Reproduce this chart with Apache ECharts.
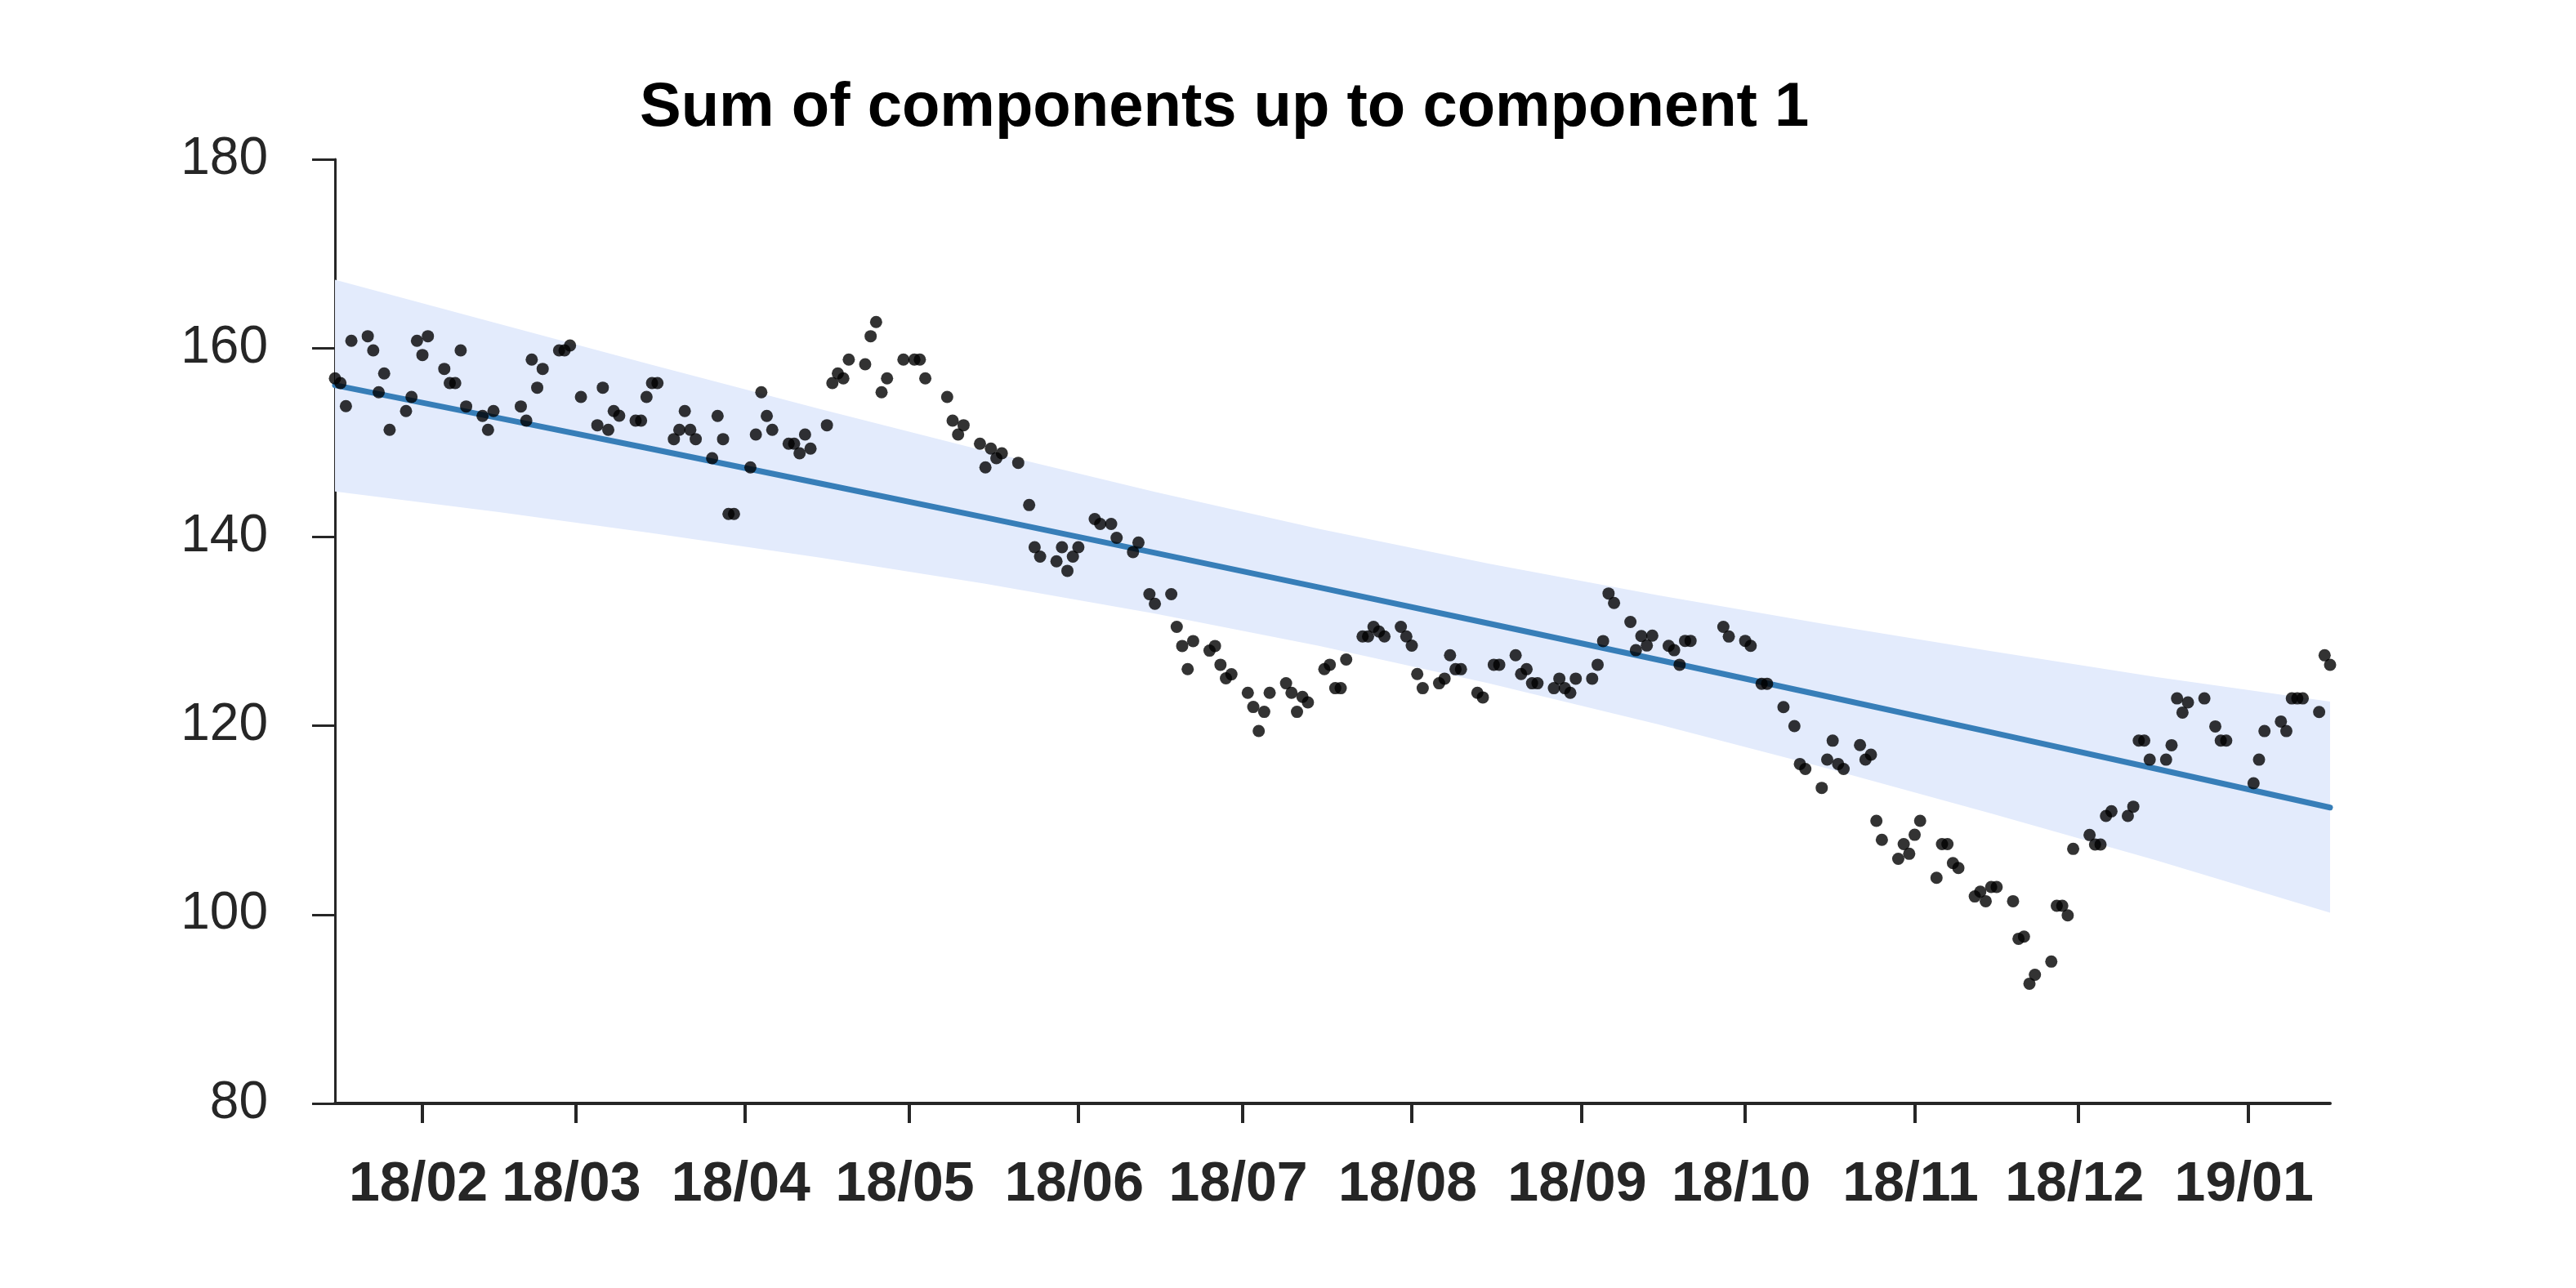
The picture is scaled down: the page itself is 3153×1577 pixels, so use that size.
<!DOCTYPE html>
<html>
<head>
<meta charset="utf-8">
<script src="https://cdn.jsdelivr.net/npm/echarts@6/dist/echarts.min.js"></script>
<style>
html, body { margin: 0; padding: 0; background: #ffffff; }
#chart { width: 3153px; height: 1577px; }
</style>
</head>
<body>
<div id="chart"></div>
<script>
// ---------------- data ----------------
const titleText = 'Sum of components up to component 1';

const firstDay = '2018-01-16';
const lastDay = '2019-01-16';

// days without a trading observation (market closed)
const marketHolidays = [
  '2018-02-15', '2018-02-16', '2018-03-01', '2018-05-01', '2018-05-07',
  '2018-05-22', '2018-06-06', '2018-06-13', '2018-08-15', '2018-09-24',
  '2018-09-25', '2018-09-26', '2018-10-03', '2018-10-09', '2018-12-25',
  '2018-12-31', '2019-01-01'
];

// observed values, one per trading day (in date order)
const observedValues = [
  // 2018-01
  156.79, 156.30, 153.85, 160.77, 161.26, 159.76, 155.32, 157.31, 151.34, 153.33, 154.83, 160.77,
  // 2018-02
  159.27, 161.26, 157.80, 156.30, 156.30, 159.76, 153.82, 152.81, 151.34, 153.33, 153.82, 152.32,
  158.78, 155.81, 157.80, 159.76, 159.76, 160.28,
  // 2018-03
  154.83, 151.83, 155.81, 151.34, 153.33, 152.84, 152.32, 152.32, 154.83, 156.30, 156.30, 150.36,
  151.34, 153.33, 151.34, 150.36, 148.34, 152.81, 150.36, 142.43, 142.43,
  // 2018-04
  147.36, 150.85, 155.32, 152.81, 151.34, 149.87, 149.87, 148.86, 150.85, 149.35, 151.83, 156.30,
  157.31, 156.79, 158.78, 158.29, 161.26, 162.76, 155.32, 156.79, 158.78,
  // 2018-05
  158.78, 158.78, 156.79, 154.83, 152.32, 150.85, 151.83, 149.87, 147.36, 149.35, 148.34, 148.86,
  147.85, 143.38, 138.91, 137.91, 137.42, 138.91, 136.41, 137.91,
  // 2018-06
  138.91, 141.90, 141.37, 141.37, 139.90, 138.40, 139.40, 133.93, 132.92, 133.93, 130.47, 128.45,
  126.00, 128.97, 127.96, 128.45, 126.46, 125.02, 125.45,
  // 2018-07
  123.49, 121.99, 119.45, 121.47, 123.49, 124.50, 123.49, 121.47, 123.06, 122.48, 126.00, 126.46,
  123.98, 123.98, 127.01, 129.46, 129.46, 130.47, 129.98, 129.46, 130.47, 129.46,
  // 2018-08
  128.48, 125.48, 123.98, 124.50, 124.99, 127.47, 125.99, 125.99, 123.49, 123.00, 126.46, 126.46,
  127.47, 125.48, 125.99, 124.50, 124.50, 123.98, 124.99, 123.98, 123.49, 124.99,
  // 2018-09
  124.99, 126.46, 128.97, 134.01, 133.00, 130.99, 128.00, 129.50, 128.50, 129.54, 128.46, 128.00,
  126.46, 128.99, 128.99, 130.47, 129.45,
  // 2018-10
  128.99, 128.46, 124.45, 124.45, 121.98, 119.97, 115.95, 115.43, 113.42, 116.42, 118.42, 115.95,
  115.43, 117.96, 116.42, 116.94, 109.93, 107.92, 105.91, 107.46, 106.44,
  // 2018-11
  108.45, 109.93, 103.90, 107.46, 107.46, 105.45, 104.93, 101.92, 102.43, 101.42, 102.92, 102.92,
  101.42, 97.44, 97.67, 92.68, 93.63, 95.02, 100.93, 100.93, 99.92, 106.96,
  // 2018-12
  108.43, 107.42, 107.42, 110.45, 110.94, 110.45, 111.43, 118.43, 118.43, 116.41, 116.41, 117.94,
  122.90, 121.40, 122.47, 122.90, 119.93, 118.43, 118.43,
  // 2019-01
  113.91, 116.41, 119.44, 120.45, 119.44, 122.90, 122.90, 122.90, 121.46, 127.46, 126.45
];

// fitted trend and its uncertainty band, read at these dates
const trendDates = ['2018-01-16', '2018-02-15', '2018-03-15', '2018-04-15', '2018-05-15',
                    '2018-06-15', '2018-07-15', '2018-08-15', '2018-09-15', '2018-10-15',
                    '2018-11-15', '2018-12-15', '2019-01-16'];
const trendValues = [156.07, 152.59, 149.31, 145.64, 142.06, 138.32, 134.66,
                     130.84, 126.99, 123.23, 119.31, 115.47, 111.34];
const bandUpper   = [167.23, 162.56, 158.22, 153.50, 149.09, 144.76, 140.86,
                     137.17, 133.82, 130.82, 127.90, 125.17, 122.55];
const bandLower   = [144.82, 142.62, 140.40, 137.78, 135.03, 131.88, 128.46,
                     124.51, 120.16, 115.64, 110.72, 105.77, 100.20];

// axis ticks
const xTickDates = ['2018-02-01', '2018-03-01', '2018-04-01', '2018-05-01', '2018-06-01', '2018-07-01',
                    '2018-08-01', '2018-09-01', '2018-10-01', '2018-11-01', '2018-12-01', '2019-01-01'];
const xTickLabels = ['18/02', '18/03', '18/04', '18/05', '18/06', '18/07',
                     '18/08', '18/09', '18/10', '18/11', '18/12', '19/01'];
const yMin = 80, yMax = 180, yStep = 20;

// ---------------- helpers ----------------
function dayMs(s) {
  const p = s.split('-');
  return Date.UTC(+p[0], +p[1] - 1, +p[2]);
}
function ymd(d) {
  const m = d.getUTCMonth() + 1, dd = d.getUTCDate();
  return d.getUTCFullYear() + '-' + (m < 10 ? '0' : '') + m + '-' + (dd < 10 ? '0' : '') + dd;
}
function tradingDays() {
  const hol = new Set(marketHolidays);
  const out = [];
  const end = dayMs(lastDay);
  for (let t = dayMs(firstDay); t <= end; t += 86400000) {
    const d = new Date(t);
    const wd = d.getUTCDay();
    const s = ymd(d);
    if (wd !== 0 && wd !== 6 && !hol.has(s)) out.push(s);
  }
  return out;
}

const days = tradingDays();
const n = Math.min(days.length, observedValues.length);
const scatterData = [];
for (let i = 0; i < n; i++) scatterData.push([dayMs(days[i]), observedValues[i]]);
const trendData = trendDates.map((s, i) => [dayMs(s), trendValues[i]]);
const xTickMs = xTickDates.map(dayMs);

const textColor = '#262626';

const chart = echarts.init(document.getElementById('chart'), null, { renderer: 'canvas' });
chart.setOption({
  animation: false,
  backgroundColor: '#ffffff',
  title: {
    text: titleText,
    left: 778,
    top: 90,
    textStyle: { fontFamily: 'Liberation Sans', fontWeight: 'bold', fontSize: 76, color: '#000000' }
  },
  grid: { left: 410, top: 195, width: 2442, height: 1156, containLabel: false },
  xAxis: {
    type: 'value',
    min: dayMs(firstDay),
    max: dayMs(lastDay),
    scale: true,
    axisLine: { show: true, lineStyle: { color: textColor, width: 4 } },
    axisTick: { show: true, inside: false, length: 24, customValues: xTickMs,
                lineStyle: { color: textColor, width: 4 } },
    axisLabel: {
      show: true, customValues: xTickMs, margin: 66, padding: [0, 10, 0, 0],
      fontFamily: 'Liberation Sans', fontWeight: 'bold', fontSize: 68, color: textColor,
      formatter: function (v) {
        const i = xTickMs.indexOf(v);
        return i >= 0 ? xTickLabels[i] : '';
      }
    },
    splitLine: { show: false }
  },
  yAxis: {
    type: 'value',
    min: yMin, max: yMax, interval: yStep,
    axisLine: { show: true, lineStyle: { color: textColor, width: 3 } },
    axisTick: { show: true, inside: false, length: 28, lineStyle: { color: textColor, width: 3 } },
    axisLabel: { margin: 82, fontFamily: 'Liberation Sans', fontSize: 64, color: textColor },
    splitLine: { show: false }
  },
  series: [
    {
      type: 'custom',
      silent: true,
      z: 1,
      clip: true,
      data: [[dayMs(trendDates[0]), trendValues[0]]],
      renderItem: function (params, api) {
        const pts = [];
        for (let i = 0; i < trendDates.length; i++) pts.push(api.coord([dayMs(trendDates[i]), bandUpper[i]]));
        for (let i = trendDates.length - 1; i >= 0; i--) pts.push(api.coord([dayMs(trendDates[i]), bandLower[i]]));
        return { type: 'polygon', shape: { points: pts }, style: { fill: '#e3ebfc' } };
      }
    },
    {
      type: 'line',
      z: 2,
      data: trendData,
      showSymbol: false,
      symbol: 'none',
      lineStyle: { color: '#377eb8', width: 7, cap: 'round' }
    },
    {
      type: 'scatter',
      z: 3,
      data: scatterData,
      symbol: 'circle',
      symbolSize: 15,
      itemStyle: { color: '#000000' }
    }
  ]
});
</script>
</body>
</html>
